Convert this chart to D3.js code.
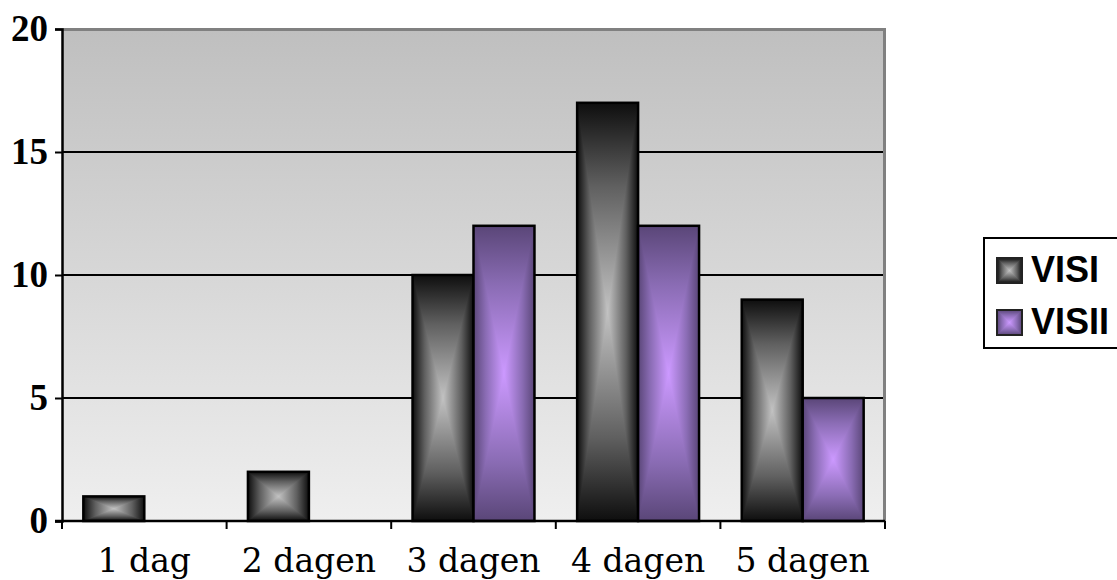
<!DOCTYPE html>
<html>
<head>
<meta charset="utf-8">
<script src="https://cdn.jsdelivr.net/npm/d3@7"></script>
<style>
  html, body { margin: 0; padding: 0; background: #fff; }
  svg { display: block; }
</style>
</head>
<body>
<div id="chart"></div>
<script>
// chart data
let categories = ["1 dag", "2 dagen", "3 dagen", "4 dagen", "5 dagen"];
let seriesNames = ["VISI", "VISII"];
let visi = [1, 2, 10, 17, 9];
let visii = [0, 0, 12, 12, 5];
let yTicks = [0, 5, 10, 15, 20];

function drawChart() {
  let W = 1117, H = 580;
  let plot = { left: 62, right: 885, top: 29, bottom: 521 };

  // edge / centre colours of the rectangular gradients
  let palette = {
    VISI: { edge: "#0e0e0e", mid: "#606060", centre: "#c2c2c2" },
    VISII: { edge: "#5a4678", mid: "#8a6cb4", centre: "#cc99ff" }
  };

  let svg = d3.select("#chart")
    .append("svg")
    .attr("width", W)
    .attr("height", H);

  let defs = svg.append("defs");

  let bg = defs.append("linearGradient")
    .attr("id", "bg")
    .attr("x1", 0).attr("y1", 0).attr("x2", 0).attr("y2", 1);
  bg.append("stop").attr("offset", "0%").attr("stop-color", "#bfbfbf");
  bg.append("stop").attr("offset", "100%").attr("stop-color", "#efefef");

  // horizontal gradient (edge -> centre -> edge) for the whole bar,
  // vertical gradients for the top and bottom triangles
  seriesNames.forEach(function(s) {
    let p = palette[s];
    let h = defs.append("linearGradient")
      .attr("id", "g-" + s + "-h")
      .attr("x1", 0).attr("y1", 0).attr("x2", 1).attr("y2", 0);
    [[0, p.edge], [20, p.mid], [50, p.centre], [80, p.mid], [100, p.edge]].forEach(function(st) {
      h.append("stop").attr("offset", st[0] + "%").attr("stop-color", st[1]);
    });
    [["t", [0, 0, 0, 1]], ["b", [0, 1, 0, 0]]].forEach(function(k) {
      let d = k[1];
      let g = defs.append("linearGradient")
        .attr("id", "g-" + s + "-" + k[0])
        .attr("x1", d[0]).attr("y1", d[1]).attr("x2", d[2]).attr("y2", d[3]);
      g.append("stop").attr("offset", "0%").attr("stop-color", p.edge);
      g.append("stop").attr("offset", "40%").attr("stop-color", p.mid);
      g.append("stop").attr("offset", "100%").attr("stop-color", p.centre);
    });
  });

  // draws a box with a "from centre" rectangular gradient
  function gradientBox(g, s, bx0, by0, bx1, by1) {
    let cx = (bx0 + bx1) / 2, cy = (by0 + by1) / 2;
    let pts = function(a) { return a.map(p => p.join(",")).join(" "); };
    g.append("rect")
      .attr("x", bx0).attr("y", by0)
      .attr("width", bx1 - bx0).attr("height", by1 - by0)
      .attr("fill", "url(#g-" + s + "-h)");
    g.append("polygon")
      .attr("points", pts([[bx0, by0], [bx1, by0], [cx, cy]]))
      .attr("fill", "url(#g-" + s + "-t)");
    g.append("polygon")
      .attr("points", pts([[bx0, by1], [bx1, by1], [cx, cy]]))
      .attr("fill", "url(#g-" + s + "-b)");
  }

  let x0 = d3.scaleBand()
    .domain(categories)
    .range([plot.left, plot.right]);

  let x1 = d3.scaleBand()
    .domain(seriesNames)
    .range([0, x0.bandwidth()])
    .paddingInner(0)
    .paddingOuter(0.35);

  let y = d3.scaleLinear()
    .domain([0, 20])
    .range([plot.bottom, plot.top]);

  // plot background
  svg.append("rect")
    .attr("x", plot.left)
    .attr("y", plot.top)
    .attr("width", plot.right - plot.left)
    .attr("height", plot.bottom - plot.top)
    .attr("fill", "url(#bg)");

  // top and right border
  svg.append("path")
    .attr("d", "M" + plot.left + "," + (plot.top + 0.5) + "H" + (plot.right - 0.5) + "V" + plot.bottom)
    .attr("fill", "none")
    .attr("stroke", "#808080")
    .attr("stroke-width", 3);

  // gridlines
  svg.append("g")
    .selectAll("line")
    .data(yTicks.filter(t => t > 0 && t < 20))
    .enter().append("line")
    .attr("x1", plot.left)
    .attr("x2", plot.right - 2)
    .attr("y1", d => y(d))
    .attr("y2", d => y(d))
    .attr("stroke", "#000")
    .attr("stroke-width", 2);

  // bars
  let rows = [];
  categories.forEach(function(c, i) {
    rows.push({ cat: c, series: "VISI", value: visi[i] });
    rows.push({ cat: c, series: "VISII", value: visii[i] });
  });

  let bars = svg.append("g")
    .selectAll("g")
    .data(rows.filter(d => d.value > 0))
    .enter().append("g");

  bars.each(function(d) {
    let g = d3.select(this);
    let bx0 = x0(d.cat) + x1(d.series);
    let bx1 = bx0 + x1.bandwidth();
    gradientBox(g, d.series, bx0, y(d.value), bx1, y(0));
    g.append("rect")
      .attr("x", bx0)
      .attr("y", y(d.value))
      .attr("width", bx1 - bx0)
      .attr("height", y(0) - y(d.value))
      .attr("fill", "none")
      .attr("stroke", "#000")
      .attr("stroke-width", 2.5);
  });

  // y axis
  let yAxis = svg.append("g")
    .attr("transform", "translate(" + plot.left + ",0)")
    .call(d3.axisLeft(y).tickValues(yTicks).tickSize(7).tickPadding(7));
  yAxis.select(".domain").attr("stroke", "#000").attr("stroke-width", 2.5);
  yAxis.selectAll(".tick line").attr("stroke", "#000").attr("stroke-width", 2);
  yAxis.selectAll(".tick text")
    .attr("fill", "#000")
    .style("font-family", "'Liberation Serif', 'Times New Roman', serif")
    .style("font-weight", "bold")
    .style("font-size", "37px");

  // x axis: ticks on category boundaries
  let xAxis = svg.append("g")
    .attr("transform", "translate(0," + plot.bottom + ")");
  xAxis.append("line")
    .attr("x1", plot.left - 7)
    .attr("x2", plot.right)
    .attr("stroke", "#000")
    .attr("stroke-width", 2.5);
  let bounds = categories.map(c => x0(c)).concat([plot.right]);
  xAxis.selectAll(".bt")
    .data(bounds)
    .enter().append("line")
    .attr("class", "bt")
    .attr("x1", d => d)
    .attr("x2", d => d)
    .attr("y1", 0)
    .attr("y2", 8)
    .attr("stroke", "#000")
    .attr("stroke-width", 2);
  xAxis.selectAll(".cl")
    .data(categories)
    .enter().append("text")
    .attr("class", "cl")
    .attr("x", d => x0(d) + x0.bandwidth() / 2)
    .attr("y", 51)
    .attr("text-anchor", "middle")
    .style("font-family", "'DejaVu Serif', serif")
    .style("font-size", "33px")
    .text(d => d);

  // legend
  let legend = svg.append("g");
  legend.append("rect")
    .attr("x", 984)
    .attr("y", 238)
    .attr("width", 160)
    .attr("height", 110)
    .attr("fill", "#fff")
    .attr("stroke", "#000")
    .attr("stroke-width", 2);

  let items = legend.selectAll(".item")
    .data(seriesNames)
    .enter().append("g")
    .attr("class", "item")
    .attr("transform", (d, i) => "translate(997," + (258 + i * 52) + ")");

  items.each(function(s) {
    let g = d3.select(this);
    let w = 25;
    gradientBox(g, s, 0, 0, w, w);
    g.append("rect")
      .attr("width", w).attr("height", w)
      .attr("fill", "none")
      .attr("stroke", "#222")
      .attr("stroke-width", 2);
    g.append("text")
      .attr("x", 34)
      .attr("y", 24)
      .style("font-family", "'Liberation Sans', Arial, sans-serif")
      .style("font-weight", "bold")
      .style("font-size", "36px")
      .text(s);
  });
}

drawChart();
</script>
</body>
</html>
